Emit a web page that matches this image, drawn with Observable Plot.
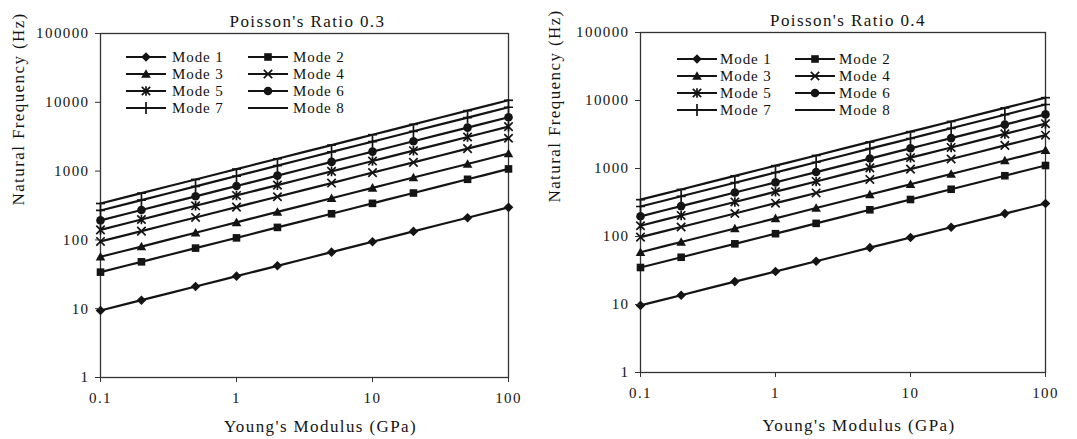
<!DOCTYPE html>
<html><head><meta charset="utf-8">
<script src="https://cdn.jsdelivr.net/npm/d3@7"></script>
<script src="https://cdn.jsdelivr.net/npm/@observablehq/plot@0.6"></script>
<style>
body{margin:0;background:#fff;}
#wrap{position:relative;width:1077px;height:439px;display:flex;}
.panel{position:relative;flex:none;}
.legend-item{position:absolute;height:16px;}
.legend-text{position:absolute;font-family:"Liberation Serif","Times New Roman",Tinos,serif;font-size:15px;letter-spacing:0.9px;line-height:16px;height:16px;color:#111;white-space:nowrap;}
</style></head><body><div id="wrap"></div><script>
// ---- data ----
const youngsModulus = [0.1, 0.2, 0.5, 1, 2, 5, 10, 20, 50, 100];
const xTicks = [0.1, 1, 10, 100];
const yTicks = [1, 10, 100, 1000, 10000, 100000];
const modeNames = ["Mode 1", "Mode 2", "Mode 3", "Mode 4", "Mode 5", "Mode 6", "Mode 7", "Mode 8"];
const panelTitles = ["Poisson's Ratio 0.3", "Poisson's Ratio 0.4"];
const xTitle = "Young's Modulus (GPa)";
const yTitle = "Natural Frequency (Hz)";

// Poisson's ratio 0.3
const nu03Mode1 = [9.4, 13.3, 21.0, 29.7, 42.0, 66.4, 93.9, 133, 210, 297];
const nu03Mode2 = [34, 48, 76, 107, 152, 240, 340, 480, 760, 1075];
const nu03Mode3 = [57, 80, 127, 180, 255, 403, 570, 806, 1270, 1800];
const nu03Mode4 = [95, 134, 212, 300, 424, 670, 950, 1340, 2120, 3000];
const nu03Mode5 = [140, 198, 313, 443, 626, 990, 1400, 1980, 3130, 4430];
const nu03Mode6 = [192, 272, 430, 607, 860, 1360, 1920, 2715, 4290, 6070];
const nu03Mode7 = [268, 379, 600, 848, 1200, 1900, 2680, 3790, 6000, 8480];
const nu03Mode8 = [338, 478, 756, 1070, 1510, 2390, 3380, 4780, 7560, 10700];

// Poisson's ratio 0.4
const nu04Mode1 = [9.7, 13.7, 21.7, 30.6, 43.3, 68.5, 96.8, 137, 217, 306];
const nu04Mode2 = [35, 49.5, 78, 110, 156, 247, 350, 495, 783, 1107];
const nu04Mode3 = [58.7, 83, 131, 185, 263, 415, 587, 830, 1310, 1855];
const nu04Mode4 = [98, 138, 218, 309, 437, 690, 978, 1380, 2185, 3090];
const nu04Mode5 = [144, 204, 322, 456, 645, 1020, 1442, 2040, 3225, 4560];
const nu04Mode6 = [198, 280, 443, 625, 886, 1400, 1980, 2800, 4420, 6250];
const nu04Mode7 = [276, 390, 618, 873, 1236, 1957, 2760, 3900, 6180, 8730];
const nu04Mode8 = [348, 492, 779, 1100, 1555, 2460, 3480, 4920, 7790, 11000];

const panelSeries = [
  [nu03Mode1, nu03Mode2, nu03Mode3, nu03Mode4, nu03Mode5, nu03Mode6, nu03Mode7, nu03Mode8],
  [nu04Mode1, nu04Mode2, nu04Mode3, nu04Mode4, nu04Mode5, nu04Mode6, nu04Mode7, nu04Mode8]
];

// ---- marker shapes (Excel-like) ----
const sym = {
  diamond: {draw(c){c.moveTo(0,-4.8);c.lineTo(4.8,0);c.lineTo(0,4.8);c.lineTo(-4.8,0);c.closePath();}},
  square: {draw(c){c.moveTo(-3.8,-3.8);c.lineTo(3.8,-3.8);c.lineTo(3.8,3.8);c.lineTo(-3.8,3.8);c.closePath();}},
  triangle: {draw(c){c.moveTo(0,-4.8);c.lineTo(4.8,3.8);c.lineTo(-4.8,3.8);c.closePath();}},
  times: {draw(c){c.moveTo(-4.2,-4.2);c.lineTo(4.2,4.2);c.moveTo(4.2,-4.2);c.lineTo(-4.2,4.2);}},
  star: {draw(c){c.moveTo(-4.2,-4.2);c.lineTo(4.2,4.2);c.moveTo(4.2,-4.2);c.lineTo(-4.2,4.2);c.moveTo(0,-4.8);c.lineTo(0,4.8);}},
  circle: {draw(c){c.moveTo(4.3,0);c.arc(0,0,4.3,0,2*Math.PI);c.closePath();}},
  plus: {draw(c){c.moveTo(0,-6);c.lineTo(0,6);c.moveTo(-4.5,0);c.lineTo(4.5,0);}},
  dash: {draw(c){c.moveTo(-4.5,0);c.lineTo(4.5,0);}}
};
const markerStyle = [
  {s: sym.diamond, filled: true},
  {s: sym.square, filled: true},
  {s: sym.triangle, filled: true},
  {s: sym.times, filled: false},
  {s: sym.star, filled: false},
  {s: sym.circle, filled: true},
  {s: sym.plus, filled: false},
  {s: sym.dash, filled: false}
];

const ink = "#141414";
const serif = "'Liberation Serif', 'Times New Roman', Tinos, serif";

const panels = [
  {width: 537, ml: 100, mr: 29, mt: 33, mb: 62, titleDx: 3, xTitleDy: 54, yTitleDx: -82,
   legend: {rows: [57, 74, 91, 108], cols: [[126, 172], [248, 293]]}},
  {width: 540, ml: 103, mr: 32, mt: 32, mb: 67, titleDx: 5, xTitleDy: 58, yTitleDx: -86,
   legend: {rows: [59, 76, 93, 110], cols: [[140, 183], [258, 302]]}}
];

const wrap = document.getElementById("wrap");

panels.forEach((p, i) => {
  const series = panelSeries[i];
  const marks = [Plot.frame({stroke: "#333", strokeWidth: 1.3})];
  series.forEach((vals, m) => {
    const d = vals.map((v, j) => ({E: youngsModulus[j], f: v, mode: modeNames[m]}));
    marks.push(Plot.line(d, {x: "E", y: "f", stroke: ink, strokeWidth: 2.2, curve: "catmull-rom"}));
    const ms = markerStyle[m];
    marks.push(Plot.dot(d, {x: "E", y: "f", symbol: ms.s, r: 4.5,
      fill: ms.filled ? ink : "none", stroke: ms.filled ? "none" : ink, strokeWidth: 1.7}));
  });
  marks.push(Plot.axisX({ticks: xTicks, tickFormat: d => String(d), tickSize: 5, tickPadding: 10, label: null, stroke: "#333", fontFamily: serif}));
  marks.push(Plot.axisY({ticks: yTicks, tickFormat: d => String(d), tickSize: 5, tickPadding: 6, label: null, stroke: "#333", fontFamily: serif}));
  marks.push(Plot.text([panelTitles[i]], {text: d => d, frameAnchor: "top", dy: -19, dx: p.titleDx, fontSize: 17, fontFamily: serif}));
  marks.push(Plot.text([xTitle], {text: d => d, frameAnchor: "bottom", dy: p.xTitleDy, dx: 16, fontSize: 17, fontFamily: serif}));
  marks.push(Plot.text([yTitle], {text: d => d, frameAnchor: "left", dx: p.yTitleDx, rotate: -90, fontSize: 17, fontFamily: serif}));

  const chart = Plot.plot({
    width: p.width, height: 439,
    marginLeft: p.ml, marginRight: p.mr, marginTop: p.mt, marginBottom: p.mb,
    x: {type: "log", domain: [0.1, 100]},
    y: {type: "log", domain: [1, 100000]},
    style: {fontFamily: serif, fontSize: "15px", color: ink, background: "#fff", letterSpacing: "1.4px"},
    marks
  });

  const div = document.createElement("div");
  div.className = "panel";
  div.style.width = p.width + "px";
  div.style.height = "439px";
  div.appendChild(chart);

  // legend (inside the plot area, two columns)
  modeNames.forEach((name, m) => {
    const row = Math.floor(m / 2), col = m % 2;
    const cy = p.legend.rows[row];
    const [lx, tx] = p.legend.cols[col];
    const ns = "http://www.w3.org/2000/svg";
    const svg = document.createElementNS(ns, "svg");
    svg.setAttribute("width", 42); svg.setAttribute("height", 16);
    svg.setAttribute("class", "legend-item");
    svg.style.left = lx + "px"; svg.style.top = (cy - 8) + "px";
    const line = document.createElementNS(ns, "line");
    line.setAttribute("x1", 0); line.setAttribute("x2", 40);
    line.setAttribute("y1", 8); line.setAttribute("y2", 8);
    line.setAttribute("stroke", ink); line.setAttribute("stroke-width", 2);
    svg.appendChild(line);
    const path = d3.path();
    markerStyle[m].s.draw(path);
    const mk = document.createElementNS(ns, "path");
    mk.setAttribute("d", path.toString());
    mk.setAttribute("transform", "translate(20,8)");
    if (markerStyle[m].filled) { mk.setAttribute("fill", ink); }
    else { mk.setAttribute("fill", "none"); mk.setAttribute("stroke", ink); mk.setAttribute("stroke-width", 1.7); }
    svg.appendChild(mk);
    div.appendChild(svg);
    const t = document.createElement("div");
    t.className = "legend-text";
    t.textContent = name;
    t.style.left = tx + "px"; t.style.top = (cy - 8) + "px";
    div.appendChild(t);
  });
  wrap.appendChild(div);
});
</script></body></html>
